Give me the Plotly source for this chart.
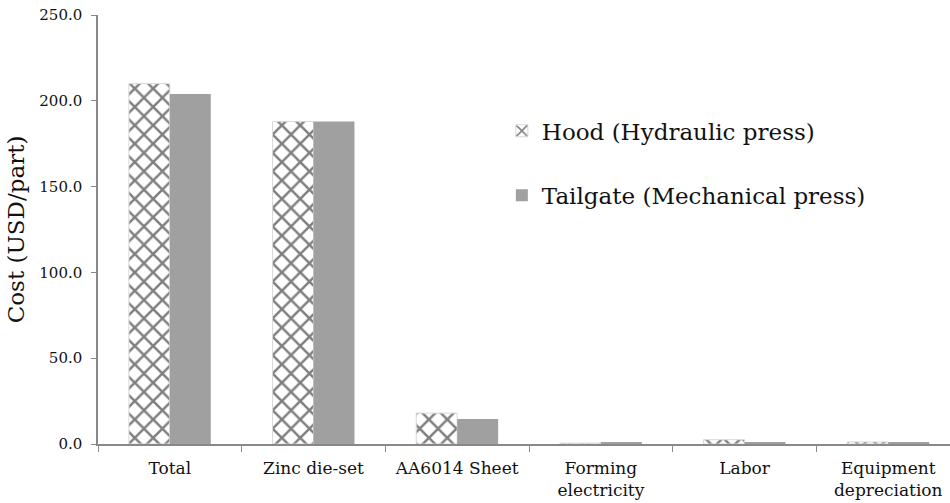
import plotly.graph_objects as go

categories = ["Total", "Zinc die-set", "AA6014 Sheet", "Forming<br>electricity", "Labor", "Equipment<br>depreciation"]
hood_values = [210.0, 188.0, 18.0, 0.5, 2.5, 1.2]
tailgate_values = [204.0, 188.0, 14.5, 1.0, 1.0, 0.8]
hood_name = "Hood (Hydraulic press)"
tailgate_name = "Tailgate (Mechanical press)"
y_ticks = [0, 50, 100, 150, 200, 250]

FONT = "DejaVu Serif, Liberation Serif, serif"

fig = go.Figure()
fig.add_trace(go.Bar(
    x=categories, y=hood_values, name=hood_name, showlegend=True,
    marker=dict(color="white", line=dict(color="#d8d8d8", width=1),
                pattern=dict(shape="x", fgcolor="#000000", bgcolor="white", size=13, solidity=0.35)),
    legend="legend",
))
fig.add_trace(go.Bar(
    x=categories, y=tailgate_values, name=tailgate_name, showlegend=True,
    marker=dict(color="#a0a0a0", line=dict(color="#a0a0a0", width=0)),
    legend="legend2",
))

fig.update_layout(
    width=950, height=503,
    margin=dict(l=98, r=0, t=15, b=59),
    paper_bgcolor="white", plot_bgcolor="white",
    barmode="group", bargap=0.43, bargroupgap=0,
    showlegend=True,
    font=dict(family=FONT, color="#111111", size=13),
    legend=dict(x=0.474, y=0.73, xanchor="left", yanchor="middle", visible=True,
                font=dict(family=FONT, size=23, color="#111111"), bgcolor="rgba(0,0,0,0)"),
    legend2=dict(x=0.474, y=0.58, xanchor="left", yanchor="middle", visible=True,
                 font=dict(family=FONT, size=23, color="#111111"), bgcolor="rgba(0,0,0,0)"),
    xaxis=dict(
        range=[-0.5, 5.43], showline=True, linecolor="#888888", linewidth=1.5,
        ticks="outside", tickson="boundaries", ticklen=6, tickcolor="#888888",
        tickfont=dict(family=FONT, size=17, color="#111111"), showgrid=False,
        automargin=False, ticklabeloverflow="allow", ticklabelstandoff=8,
    ),
    yaxis=dict(
        range=[0, 250], tickvals=y_ticks, tickformat=".1f",
        showline=True, linecolor="#888888", linewidth=1.5,
        ticks="outside", ticklen=5, tickcolor="#888888", showgrid=False, zeroline=False,
        tickfont=dict(family=FONT, size=15, color="#111111"),
        title=dict(text="Cost (USD/part)", font=dict(family=FONT, size=23, color="#111111"), standoff=8),
        automargin=False, ticklabeloverflow="allow", ticklabelstandoff=6,
    ),
)

fig.write_html("out.html", config={"displayModeBar": False},
               post_script="document.body.style.margin='0';")
